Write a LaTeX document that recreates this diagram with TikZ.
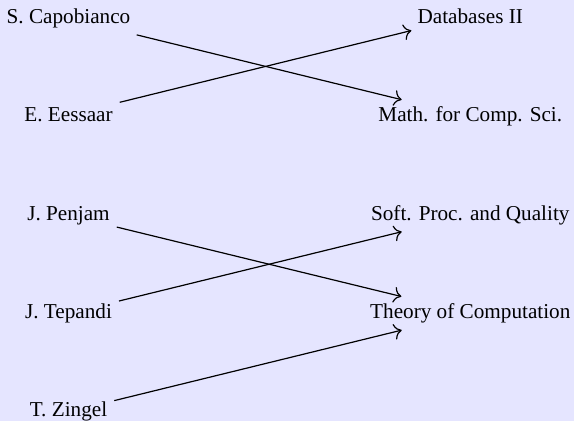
\documentclass[tikz,border=0pt]{standalone}
\usepackage{fontspec}
\setmainfont{Liberation Serif}
\usepackage{xcolor}
\usetikzlibrary{arrows.meta,positioning}
\definecolor{bgpanel}{RGB}{229,229,255}

\begin{document}
\begin{tikzpicture}[
  x=1pt, y=1pt,
  person/.style={anchor=base, font=\fontsize{10.6}{12}\selectfont},
  course/.style={anchor=base, font=\fontsize{10.6}{12}\selectfont},
  arrow/.style={-{To[scale=1.3]}, line width=0.6pt}
]
\fill[bgpanel] (0,0) rectangle (287,210.5);
\useasboundingbox (0,0) rectangle (287,210.5);
\node[person] (cap) at (34.25,198.85) {S. Capobianco};
\node[person] (ees) at (34.25,149.65) {E. Eessaar};
\node[person] (pen) at (34.25,100.45) {J. Penjam};
\node[person] (tep) at (34.25,51.25) {J. Tepandi};
\node[person] (zin) at (34.25,2.05) {T. Zingel};
\node[course] (db) at (235.15,198.85) {Databases II};
\node[course] (math) at (235.15,149.65) {Math. for Comp. Sci.};
\node[course] (soft) at (235.15,100.45) {Soft. Proc. and Quality};
\node[course] (toc) at (235.15,51.25) {Theory of Computation};
\draw[arrow] (cap) -- (math);
\draw[arrow] (ees) -- (db);
\draw[arrow] (pen) -- (toc);
\draw[arrow] (tep) -- (soft);
\draw[arrow] (zin) -- (toc);
\end{tikzpicture}
\end{document}
